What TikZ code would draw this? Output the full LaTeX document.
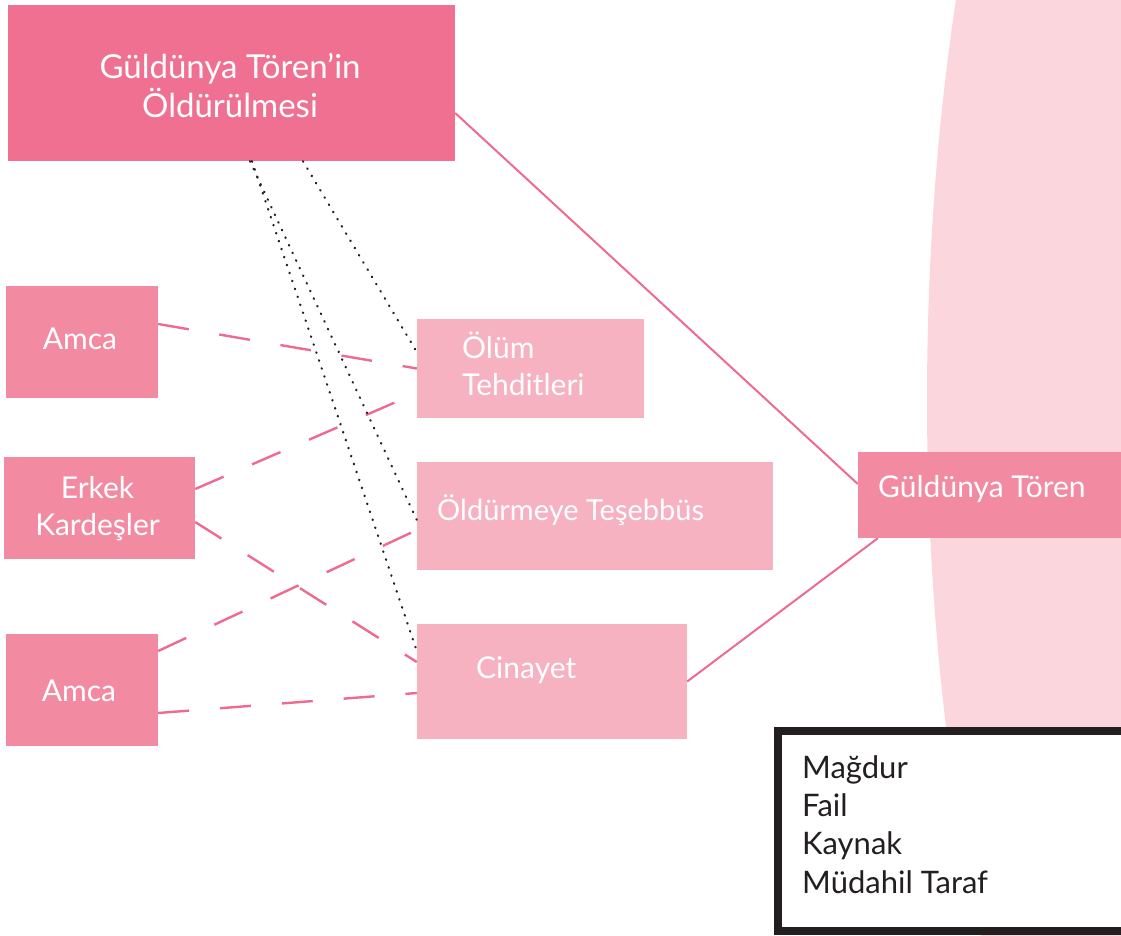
\documentclass[tikz,border=0pt]{standalone}
\usepackage{fontspec}
\setmainfont{Lato}
\definecolor{rosedark}{HTML}{F07092}
\definecolor{rosemid}{HTML}{F28BA2}
\definecolor{roselight}{HTML}{F6B2C1}
\definecolor{rosepale}{HTML}{FBD7DD}
\definecolor{roseline}{HTML}{EE6A8F}
\definecolor{inkdark}{HTML}{231F20}
\begin{document}
\begin{tikzpicture}[x=1pt,y=-1pt,
  box/.style={rectangle,draw=none,inner sep=0pt},
  lbl/.style={text=white,inner sep=0pt,align=left,font=\fontsize{30}{37}\selectfont},
  solidlink/.style={roseline,line width=2pt},
  dashlink/.style={roseline,line width=2.4pt,dash pattern=on 31pt off 31pt},
  dotlink/.style={inkdark,line width=2.2pt,line cap=round,dash pattern=on 0.6pt off 7.8pt}]
\useasboundingbox (0,0) rectangle (1121,935);
\begin{scope}
\clip (0,0) rectangle (1121,935);
\fill[rosepale] (1327,400) ellipse [x radius=400pt, y radius=1069pt];
\end{scope}

\node[box,fill=rosedark,minimum width=447pt,minimum height=156pt] (top) at (231.5,83) {};
\node[box,fill=rosemid,minimum width=152pt,minimum height=112pt] (amcaA) at (82,342) {};
\node[box,fill=rosemid,minimum width=191pt,minimum height=102pt] (erkek) at (99.5,508) {};
\node[box,fill=rosemid,minimum width=152pt,minimum height=112pt] (amcaB) at (82,690) {};
\node[box,fill=roselight,minimum width=227pt,minimum height=99pt] (olum) at (530.5,368.5) {};
\node[box,fill=roselight,minimum width=356pt,minimum height=108pt] (oldur) at (595,516) {};
\node[box,fill=roselight,minimum width=270pt,minimum height=115pt] (cinayet) at (552,681.5) {};
\node[box,fill=rosemid,minimum width=267pt,minimum height=86pt] (guldunya) at (991.5,495) {};

\node[lbl,align=center,font=\fontsize{33}{39}\selectfont,anchor=base] (toptxt) at (230,117) {Güldünya Tören’in\\Öldürülmesi};
\node[lbl,anchor=base] (amcaAtxt) at (80,349) {Amca};
\node[lbl,align=center,anchor=base] (erkektxt) at (97.5,535) {Erkek\\Kardeşler};
\node[lbl,anchor=base] (amcaBtxt) at (79,701) {Amca};
\node[lbl,anchor=base west] (olumtxt) at (462,395) {Ölüm\\Tehditleri};
\node[lbl,font=\fontsize{29}{37}\selectfont,anchor=base west] (oldurtxt) at (437,520) {Öldürmeye Teşebbüs};
\node[lbl,anchor=base west] (cinayettxt) at (476,678) {Cinayet};
\node[lbl,anchor=base west] (guldunyatxt) at (878,497) {Güldünya Tören};

\draw[solidlink] ([yshift=-30pt]top.east) -- ([yshift=11pt]guldunya.west);
\draw[solidlink] (cinayet.east) -- ([xshift=20pt]guldunya.south west);

\draw[dashlink] ([yshift=18pt]amcaA.east) -- (olum.west);
\draw[dashlink] ([yshift=19pt]erkek.east) -- ([yshift=-24.5pt]olum.west);
\draw[dashlink] ([yshift=-14pt]erkek.east) -- ([yshift=19.5pt]cinayet.west);
\draw[dashlink] ([yshift=39pt]amcaB.east) -- ([yshift=-14pt]oldur.west);
\draw[dashlink] ([yshift=-23pt]amcaB.east) -- ([yshift=-11.5pt]cinayet.west);

\draw[dotlink] ([xshift=71.5pt]top.south) -- ([yshift=16.5pt]olum.west);
\draw[dotlink] ([xshift=18.5pt]top.south) -- ([yshift=-4pt]oldur.west);
\draw[dotlink] ([xshift=20.5pt]top.south) -- ([yshift=30.5pt]cinayet.west);

\draw[inkdark,line width=8pt,fill=white] (778,731) rectangle (1125,931);
\node[lbl,text=inkdark,font=\fontsize{31}{38.3}\selectfont,anchor=base west] (legend) at (802,893) {Mağdur\\Fail\\Kaynak\\Müdahil Taraf};
\end{tikzpicture}
\end{document}
